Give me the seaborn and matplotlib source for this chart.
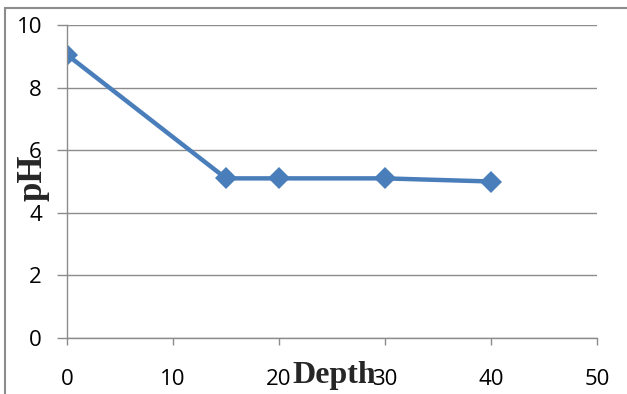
import matplotlib
matplotlib.use("Agg")
import matplotlib.pyplot as plt
import seaborn as sns
import pandas as pd
from matplotlib.patches import Rectangle

depth = [0, 15, 20, 30, 40]
ph = [9.05, 5.1, 5.1, 5.1, 5.0]
x_ticks = [0, 10, 20, 30, 40, 50]
y_ticks = [0, 2, 4, 6, 8, 10]

sns.set_theme(style="white")
plt.rcParams['font.family'] = ['Open Sans', 'DejaVu Sans']

W, H = 627, 394
fig = plt.figure(figsize=(W / 100, H / 100), dpi=100)
ax = fig.add_axes([67 / W, 1 - 338 / H, (597 - 67) / W, (338 - 25) / H])

df = pd.DataFrame({"Depth": depth, "pH": ph})
sns.lineplot(data=df, x="Depth", y="pH", ax=ax, color="#4A7EBB", linewidth=3.2,
             marker="D", markersize=11, markeredgewidth=0, markeredgecolor="#4A7EBB")

ax.set_xlim(0, 50)
ax.set_ylim(0, 10)
ax.set_xticks(x_ticks)
ax.set_yticks(y_ticks)
ax.set_xticklabels([str(v) for v in x_ticks])
ax.set_yticklabels([str(v) for v in y_ticks])
ax.yaxis.grid(True, color="#8C8C8C", linewidth=1.0)
ax.xaxis.grid(False)
for s in ["top", "right"]:
    ax.spines[s].set_visible(False)
for s in ["left", "bottom"]:
    ax.spines[s].set_color("#8C8C8C")
    ax.spines[s].set_linewidth(1.0)
ax.tick_params(axis="y", direction="out", length=7, width=1, color="#8C8C8C",
               pad=11, labelsize=16, labelcolor="black", left=True)
ax.tick_params(axis="x", direction="out", length=5, width=1, color="#8C8C8C",
               pad=17, labelsize=16, labelcolor="black", bottom=True)

ax.set_xlabel("Depth", fontsize=23, fontweight="bold", family="Liberation Serif",
              va="center", ha="center")
ax.set_ylabel("pH", fontsize=25, fontweight="bold", family="Liberation Serif",
              va="center", ha="center")
ax.xaxis.set_label_coords((334 - 67) / 530, (338 - 376) / 313)
ax.yaxis.set_label_coords((33 - 67) / 530, (338 - 178) / 313)
ax.xaxis.label.set_zorder(5)

fig.add_artist(Rectangle((5 / W, -0.1), 1.2, 1 - 8 / H + 0.1, transform=fig.transFigure,
                         fill=False, edgecolor="#8C8C8C", linewidth=1.5))

fig.savefig("out.png", dpi=100)
